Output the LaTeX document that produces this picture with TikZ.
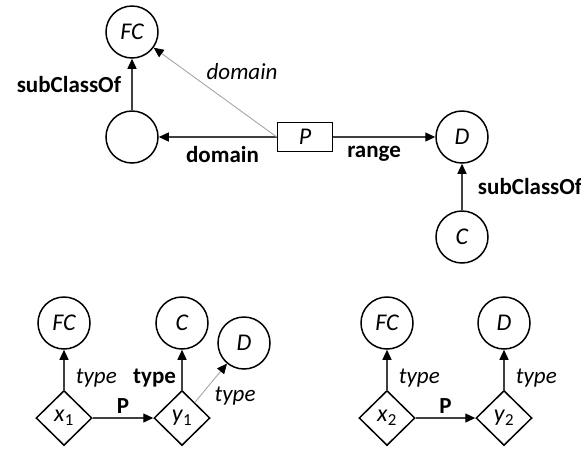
\documentclass[tikz,border=0pt]{standalone}
\usepackage{fontspec}
\setmainfont{Carlito}
\usetikzlibrary{arrows.meta,shapes.geometric,positioning}

\begin{document}
\begin{tikzpicture}[x=1pt, y=-1pt, on grid,
    font=\fontsize{23}{27}\selectfont, line width=1.3pt,
    cls/.style={circle, draw, line width=1.5pt, minimum size=52pt, inner sep=0pt,
      font=\fontsize{24}{28}\selectfont\itshape},
    ind/.style={diamond, draw, line width=1.5pt, minimum width=56pt, minimum height=55pt,
      inner sep=0pt, font=\fontsize{24}{28}\selectfont},
    prop/.style={rectangle, draw, line width=1.5pt, minimum width=55pt, minimum height=29pt,
      inner sep=0pt, font=\fontsize{24}{28}\selectfont\itshape},
    arc/.style={-{Triangle[length=10pt, width=9pt, color=black]}, draw=black!75},
    weak/.style={-{Triangle[length=10pt, width=9pt, color=black]}, draw=black!35, line width=0.9pt}]
    \useasboundingbox (0,0) rectangle (581,451);
    % schema
    \node[cls] (sub) at (132,137) {};
    \node[cls, above=105pt of sub] (fc) {FC};
    \node[prop, right=173pt of sub] (p) {P};
    \node[cls, right=157pt of p] (d) {D};
    \node[cls, below=100pt of d] (c) {C};
    \path
    (sub) edge[arc] node[left=7pt] {\textbf{subClassOf}} (fc)
    (p) edge[arc] node[below=5pt, pos=0.46] {\textbf{domain}} (sub)
    (p.west) edge[weak] node[above right, pos=0.6] {\textit{domain}} (fc)
    (p) edge[arc] node[below=5pt, pos=0.4] {\textbf{range}} (d)
    (c) edge[arc] node[right=12pt] {\textbf{subClassOf}} (d)
    ;
    % first instance
    \node[ind] (x1) at (64,418) {\textit{x}\textsubscript{1}};
    \node[ind, right=118pt of x1] (y1) {\textit{y}\textsubscript{1}};
    \node[cls, above=95pt of x1] (fc1) {FC};
    \node[cls, above=95pt of y1] (c1) {C};
    \node[cls, above right=75pt and 62pt of y1] (d1) {D};
    \path
    (x1) edge[arc] node[right=8pt, pos=0.3] {\textit{type}} (fc1)
    (x1) edge[arc] node[above=1pt] {\textbf{P}} (y1)
    (y1) edge[arc] node[left=2pt, pos=0.3] {\textbf{type}} (c1)
    (y1) edge[weak] node[below right, pos=0.5] {\textit{type}} (d1)
    ;
    % second instance
    \node[ind] (x2) at (387,418) {\textit{x}\textsubscript{2}};
    \node[ind, right=117pt of x2] (y2) {\textit{y}\textsubscript{2}};
    \node[cls, above=95pt of x2] (fc2) {FC};
    \node[cls, above=95pt of y2] (d2) {D};
    \path
    (x2) edge[arc] node[right=8pt, pos=0.3] {\textit{type}} (fc2)
    (x2) edge[arc] node[above=1pt] {\textbf{P}} (y2)
    (y2) edge[arc] node[right=8pt, pos=0.3] {\textit{type}} (d2)
    ;
\end{tikzpicture}
\end{document}
